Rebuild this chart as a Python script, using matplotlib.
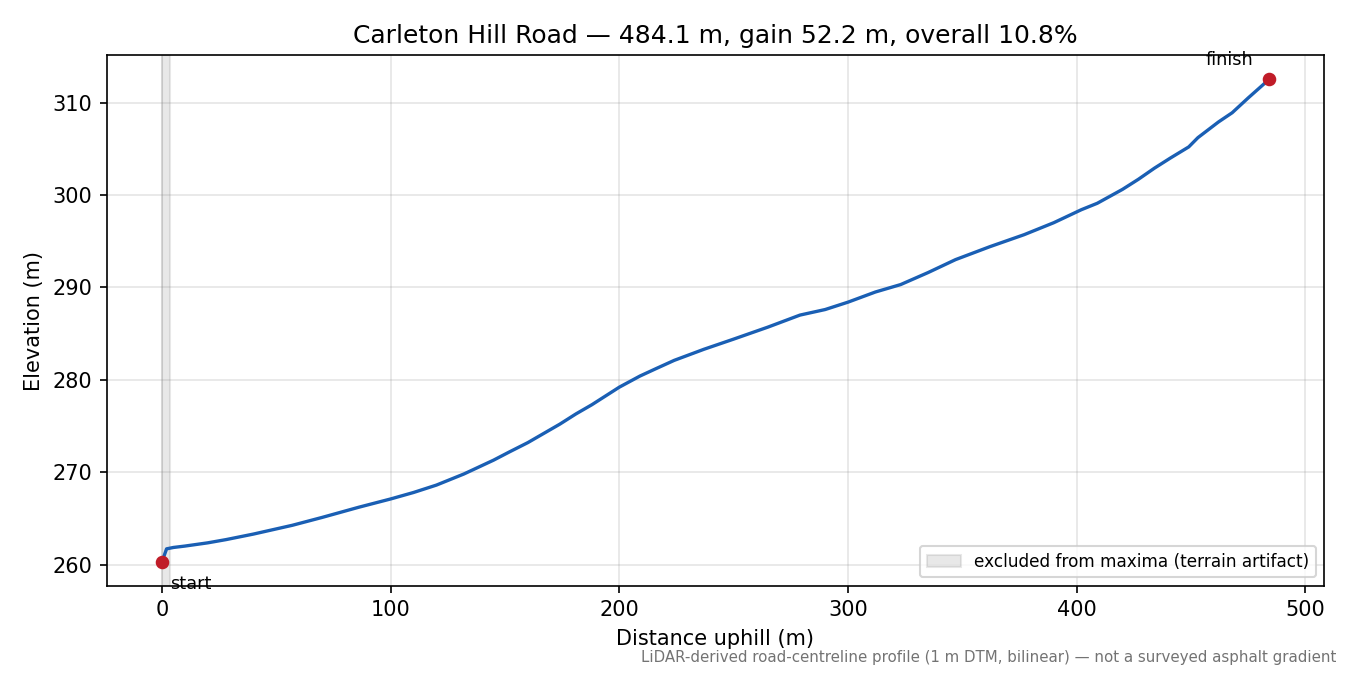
import matplotlib
matplotlib.use("Agg")
import matplotlib.pyplot as plt

distance_m = [0, 1, 2, 5, 10, 20, 28, 40, 57, 70, 86, 100, 110, 120, 132, 145, 152, 160, 167,
              174, 181, 188, 200, 209, 216, 224, 237, 250, 265, 279, 290, 300, 312, 323, 335,
              347, 362, 377, 390, 402, 409, 420, 427, 434, 441, 449, 453, 462, 468, 475, 484.1]
elevation_m = [260.3, 261.0, 261.7, 261.85, 262.0, 262.35, 262.7, 263.3, 264.25, 265.1, 266.2,
               267.1, 267.8, 268.6, 269.8, 271.3, 272.2, 273.2, 274.2, 275.2, 276.3, 277.3,
               279.2, 280.4, 281.2, 282.1, 283.3, 284.4, 285.7, 287.0, 287.6, 288.4, 289.5,
               290.3, 291.6, 293.0, 294.4, 295.7, 297.0, 298.4, 299.1, 300.6, 301.7, 302.9,
               304.0, 305.2, 306.2, 307.9, 308.9, 310.5, 312.5]
excluded_range = [0, 3.5]

title = "Carleton Hill Road \u2014 484.1 m, gain 52.2 m, overall 10.8%"
footnote = "LiDAR-derived road-centreline profile (1 m DTM, bilinear) \u2014 not a surveyed asphalt gradient"

fig, ax = plt.subplots(figsize=(9, 4.5), dpi=150)
ax.axvspan(excluded_range[0], excluded_range[1], color="0.55", alpha=0.2,
           label="excluded from maxima (terrain artifact)")
ax.plot(distance_m, elevation_m, color="#1a5fb4", lw=1.6, zorder=3)
ax.plot([distance_m[0], distance_m[-1]], [elevation_m[0], elevation_m[-1]], "o",
        color="#c01c28", ms=5.5, zorder=4)
ax.annotate("start", (distance_m[0], elevation_m[0]), xytext=(4, -13),
            textcoords="offset points", fontsize=8.5)
ax.annotate("finish", (distance_m[-1], elevation_m[-1]), xytext=(-19, 7),
            textcoords="offset points", fontsize=8.5, ha="center")
ax.grid(True, color="0.5", alpha=0.2, lw=0.8)
ax.set_xlabel("Distance uphill (m)", fontsize=10)
ax.set_ylabel("Elevation (m)", fontsize=10)
ax.set_title(title, fontsize=12)
ax.tick_params(labelsize=10)
ax.legend(loc="lower right", fontsize=8.1)
fig.text(0.99, 0.015, footnote, ha="right", va="bottom", fontsize=7.2, color="0.45")
fig.subplots_adjust(left=0.079, right=0.981, top=0.918, bottom=0.132)
fig.savefig("out.png", dpi=150)
